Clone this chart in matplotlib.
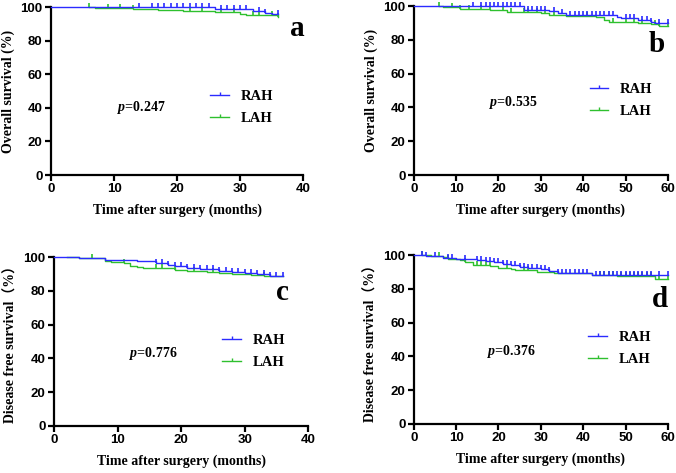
import numpy as np
import matplotlib
matplotlib.use("Agg")
import matplotlib.pyplot as plt

# Kaplan-Meier step data (time in months, survival in %)
# a: overall survival, 3 years
a_rah_t = [0, 26, 32, 34, 35, 36]
a_rah_s = [100, 98.8, 97.6, 96.4, 95.6, 95.6]
a_rah_cens = [14, 16, 17, 18, 19, 20, 21, 22, 23, 24, 25, 27, 28, 29, 30, 31, 33, 34, 36]
a_lah_t = [6, 7, 13, 17, 21, 26, 30, 31, 36]
a_lah_s = [100, 99.5, 99, 98.5, 97.5, 97, 96, 95, 94.2]
a_lah_cens = [6, 9, 11, 13, 22, 24, 27, 29, 32, 33, 35, 36]

# b: overall survival, 5 years
b_rah_t = [0, 26, 32, 34, 36, 48, 49, 53, 56, 57, 60]
b_rah_s = [100, 98, 97, 96, 95, 93.7, 92.7, 91.7, 90.7, 90, 90]
b_rah_cens = [14, 16, 17, 18, 19, 20, 21, 22, 23, 24, 25, 27, 28, 29, 30, 31, 33, 35, 37,
              38, 39, 40, 41, 42, 43, 44, 45, 46, 47, 50, 51, 52, 54, 55, 56, 58, 60]
b_lah_t = [6, 7, 11, 13, 18, 22, 24, 30, 32, 36, 43, 45, 46, 53, 56, 58, 60]
b_lah_s = [100, 99.2, 98.6, 98.2, 97.6, 96.8, 96.4, 95.7, 94.9, 94, 93.3, 91.7, 90.5,
           90.1, 89.3, 88.4, 88.4]
b_lah_cens = [6, 9, 11, 13, 16, 18, 21, 23, 26, 27, 29, 31, 33, 41, 47, 50, 52, 54, 57, 58, 60]

# c: disease free survival, 3 years
c_rah_t = [0, 4, 8, 13, 16, 18, 19, 21, 23, 26, 28, 30, 32, 34, 36]
c_rah_s = [100, 99.4, 98.4, 97.6, 96.5, 95.5, 94.5, 93.7, 92.9, 91.9, 91.1, 90.4, 89.8,
           89, 89]
c_rah_cens = [16, 17, 18, 19, 20, 21, 22, 23, 24, 25, 26, 27, 28, 29, 30, 31, 32, 33, 34,
              35, 36]
c_lah_t = [2, 4, 8, 9, 11, 12, 13, 14, 19, 21, 24, 26, 28, 31, 33, 36]
c_lah_s = [100, 99.4, 98, 97.2, 96.5, 94.9, 94, 93.3, 92.3, 91.9, 91.1, 90.6, 90.2, 89.6,
           88.6, 88.6]
c_lah_cens = [6, 11, 16, 17, 19, 22, 25, 33]

# d: disease free survival, 5 years
d_rah_t = [0, 3, 7, 10, 12, 15, 17, 19, 21, 23, 25, 27, 30, 32, 34, 42, 60]
d_rah_s = [100, 99.5, 98.6, 98, 97.6, 97.2, 96.6, 95.7, 94.7, 94, 93.1, 92.3, 91.5, 90.5,
           89.5, 88.4, 88.4]
d_rah_cens = [2, 3, 5, 8, 9, 12, 15, 16, 17, 18, 19, 20, 21, 22, 23, 24, 25, 26, 27, 28,
              29, 30, 31, 32, 34, 35, 36, 37, 38, 39, 40, 41, 43, 44, 45, 46, 47, 48, 49,
              50, 51, 52, 53, 54, 55, 56, 58, 60]
d_lah_t = [2, 4, 7, 8, 11, 12, 14, 18, 20, 23, 24, 29, 33, 42, 48, 57, 60]
d_lah_s = [100, 99.6, 99, 98, 97, 95.7, 94.1, 93.3, 92.3, 91.7, 91.1, 90.3, 89.3, 88.2,
           87.4, 85.8, 85.8]
d_lah_cens = [2, 6, 8, 12, 15, 16, 17, 18, 22, 26, 27, 44, 45, 46, 47, 49, 50, 51, 52,
              53, 54, 55, 56, 58, 60]

p_values = ["0.247", "0.535", "0.776", "0.376"]
panel_letters = ["a", "b", "c", "d"]
x_max = [40, 60, 40, 60]
y_labels = ["Overall survival (%)", "Overall survival (%)",
            "Disease free survival（%）", "Disease free survival（%）"]

blue = "#2b2bff"
green = "#2ec02e"

plt.rcParams["mathtext.fontset"] = "custom"
plt.rcParams["mathtext.it"] = "Liberation Serif:italic:bold"
plt.rcParams["mathtext.rm"] = "Liberation Serif:bold"

serif = ["Liberation Serif", "Noto Sans CJK SC"]

fig = plt.figure(figsize=(6.76, 4.73), dpi=100)
boxes = [
    [0.0754, 0.630, 0.373, 0.355],
    [0.612, 0.630, 0.376, 0.357],
    [0.0799, 0.0994, 0.376, 0.357],
    [0.612, 0.1036, 0.376, 0.357],
]
legend_pos = [(0.58, 0.585), (0.64, 0.625), (0.61, 0.625), (0.635, 0.63)]
p_pos = [(0.26, 0.40), (0.295, 0.43), (0.295, 0.43), (0.29, 0.43)]
letter_pos = [(0.975, 0.875), (0.957, 0.77), (0.90, 0.79), (0.97, 0.74)]

curves = [
    (a_rah_t, a_rah_s, a_rah_cens, a_lah_t, a_lah_s, a_lah_cens),
    (b_rah_t, b_rah_s, b_rah_cens, b_lah_t, b_lah_s, b_lah_cens),
    (c_rah_t, c_rah_s, c_rah_cens, c_lah_t, c_lah_s, c_lah_cens),
    (d_rah_t, d_rah_s, d_rah_cens, d_lah_t, d_lah_s, d_lah_cens),
]


def km_at(t, s, when):
    # survival value of the step curve at each censor time
    idx = np.searchsorted(t, when, side="right") - 1
    return np.array(s)[np.clip(idx, 0, len(s) - 1)]


for i, box in enumerate(boxes):
    ax = fig.add_axes(box)
    rt, rs, rc, lt, ls, lc = curves[i]
    for t, s, c, col in [(lt, ls, lc, green), (rt, rs, rc, blue)]:
        ax.step(t, s, where="post", color=col, lw=1.0, clip_on=False, zorder=3)
        ax.plot(c, km_at(t, s, c), ls="none", marker=2, ms=2.8, mew=1.2, color=col,
                clip_on=False, zorder=3)
    # legend proxies in RAH, LAH order
    h1, = ax.plot([], [], color=blue, lw=1.0, marker=2, ms=2.5, mew=1.0)
    h2, = ax.plot([], [], color=green, lw=1.0, marker=2, ms=2.5, mew=1.0)
    ax.legend([h1, h2], ["RAH", "LAH"], loc="upper left", bbox_to_anchor=legend_pos[i],
              frameon=False, prop={"family": "Liberation Serif", "weight": "bold", "size": 10.5},
              handlelength=1.3, labelspacing=0.6, handletextpad=0.8)

    ax.text(p_pos[i][0], p_pos[i][1], r"$p$=" + p_values[i], transform=ax.transAxes,
            family="Liberation Serif", weight="bold", fontsize=10, va="center")
    ax.text(letter_pos[i][0], letter_pos[i][1], panel_letters[i], transform=ax.transAxes,
            family="Liberation Serif", weight="bold", fontsize=21, ha="center", va="center")

    ax.set_xlim(0, x_max[i])
    ax.set_ylim(0, 100)
    ax.set_xticks(np.arange(0, x_max[i] + 1, 10))
    ax.set_yticks(np.arange(0, 101, 20))
    for sp in ["top", "right"]:
        ax.spines[sp].set_visible(False)
    for sp in ["left", "bottom"]:
        ax.spines[sp].set_linewidth(1.6)
    ax.tick_params(direction="out", length=4, width=1.6, labelsize=9.5, pad=2)
    for lb in ax.get_xticklabels() + ax.get_yticklabels():
        lb.set_fontweight("bold")
        lb.set_family("Liberation Sans")
    ax.set_xlabel("Time after surgery (months)", family=serif, weight="bold", fontsize=10,
                  labelpad=6)
    ax.set_ylabel(y_labels[i], family=serif, weight="bold", fontsize=10, labelpad=4)

fig.savefig("out.png", dpi=100)
